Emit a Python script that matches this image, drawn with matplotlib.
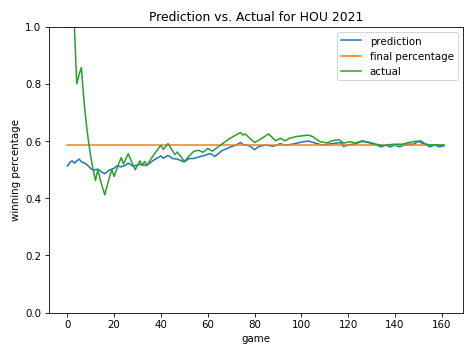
import matplotlib
matplotlib.use("Agg")
import matplotlib.pyplot as plt

# values (game index -> winning percentage)
pred_game = [0, 1, 2, 3, 4, 5, 6, 8, 10, 11, 13, 15, 16, 18, 20, 21, 23, 25, 26, 28,
             30, 31, 33, 34, 37, 40, 41, 43, 45, 47, 50, 52, 54, 56, 59, 61, 62, 63,
             66, 69, 72, 74, 75, 78, 80, 82, 85, 88, 91, 93, 96, 101, 103, 106, 109,
             112, 117, 118, 120, 123, 126, 129, 132, 134, 136, 138, 140, 142, 144,
             146, 148, 150, 152, 154, 155, 157, 159, 161]
pred_pct = [0.513, 0.525, 0.531, 0.523, 0.530, 0.537, 0.528, 0.520, 0.504, 0.498,
            0.502, 0.490, 0.486, 0.499, 0.505, 0.513, 0.510, 0.516, 0.523, 0.513,
            0.516, 0.519, 0.515, 0.516, 0.534, 0.548, 0.540, 0.550, 0.539, 0.537,
            0.527, 0.539, 0.539, 0.544, 0.551, 0.556, 0.552, 0.546, 0.566, 0.577,
            0.586, 0.595, 0.588, 0.583, 0.570, 0.582, 0.586, 0.582, 0.591, 0.586,
            0.589, 0.598, 0.600, 0.593, 0.586, 0.590, 0.595, 0.581, 0.587, 0.590,
            0.599, 0.594, 0.587, 0.580, 0.586, 0.580, 0.586, 0.580, 0.586, 0.589,
            0.589, 0.599, 0.592, 0.584, 0.580, 0.586, 0.580, 0.584]

actual_game = [0, 1, 2, 3, 4, 5, 6, 7, 8, 9, 10, 11, 12, 13, 14, 15, 16, 17, 18, 19,
               20, 21, 22, 23, 24, 25, 26, 27, 28, 29, 30, 31, 32, 33, 34, 35, 36, 37,
               38, 39, 40, 41, 42, 43, 44, 45, 46, 47, 48, 49, 50, 51, 52, 53, 54, 56,
               58, 60, 62, 63, 66, 69, 72, 74, 75, 76, 80, 83, 86, 89, 91, 93, 95, 98,
               103, 105, 106, 108, 111, 113, 116, 118, 121, 123, 126, 129, 132, 135,
               137, 140, 143, 146, 148, 151, 153, 155, 158, 161]
actual_pct = [1.0, 1.0, 1.0, 1.0, 0.8, 0.833, 0.857, 0.75, 0.667, 0.6, 0.545, 0.5,
              0.462, 0.5, 0.467, 0.438, 0.412, 0.444, 0.474, 0.5, 0.476, 0.5, 0.522,
              0.542, 0.52, 0.538, 0.556, 0.536, 0.517, 0.5, 0.516, 0.531, 0.515, 0.529,
              0.514, 0.528, 0.541, 0.553, 0.564, 0.575, 0.585, 0.571, 0.581, 0.591,
              0.578, 0.565, 0.553, 0.562, 0.551, 0.54, 0.529, 0.538, 0.547, 0.556,
              0.564, 0.568, 0.561, 0.574, 0.565, 0.571, 0.589, 0.607, 0.621, 0.630,
              0.621, 0.625, 0.595, 0.609, 0.625, 0.601, 0.610, 0.601, 0.610, 0.616,
              0.621, 0.615, 0.609, 0.598, 0.594, 0.601, 0.605, 0.593, 0.598, 0.593,
              0.601, 0.596, 0.589, 0.584, 0.587, 0.589, 0.589, 0.595, 0.598, 0.601,
              0.590, 0.587, 0.587, 0.586]

final_pct = 0.586

fig = plt.figure(figsize=(6.4, 4.8), dpi=474 / 6.4)
plt.plot(pred_game, pred_pct, label="prediction")
plt.plot([0, 161], [final_pct, final_pct], label="final percentage")
plt.plot(actual_game, actual_pct, label="actual")
plt.ylim(0, 1)
plt.title("Prediction vs. Actual for HOU 2021")
plt.xlabel("game")
plt.ylabel("winning percentage")
plt.legend(loc="upper right")
plt.tight_layout()
plt.savefig("out.png")
